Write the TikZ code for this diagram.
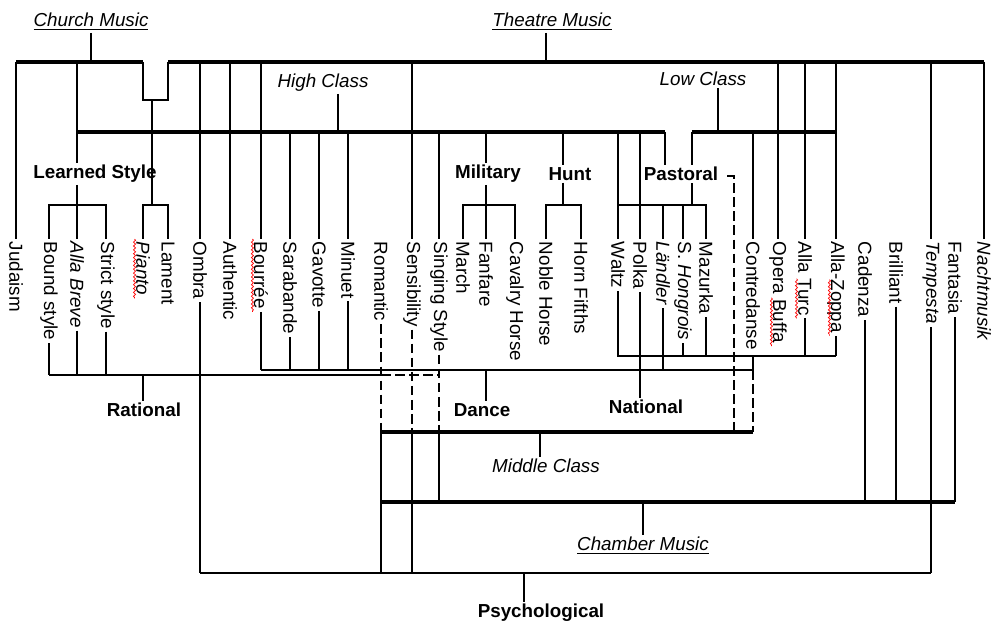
\documentclass[tikz,border=0pt]{standalone}
\usepackage{fontspec}
\setmainfont{Liberation Sans}
\usetikzlibrary{positioning,calc,decorations.pathmorphing}
\newcommand{\lblsize}{\fontsize{10.7}{12}\selectfont}
\tikzset{item/.style={rotate=-90,anchor=west,inner sep=1.5pt,font=\lblsize},
 grp/.style={font=\lblsize\bfseries,inner sep=1pt},
 cls/.style={font=\lblsize\itshape,inner sep=1pt},
 link/.style={line width=.75pt},
 dlink/.style={link,dash pattern=on 5.5pt off 2.5pt},
 midbar/.style={line width=1.9pt},
 bar/.style={line width=2.6pt},
 spell/.style={red,line width=.4pt,decorate,
  decoration={snake,amplitude=.6pt,segment length=2.2pt}}}

\begin{document}
\begin{tikzpicture}[x=0.02cm,y=-0.02cm]
\useasboundingbox (0,0) rectangle (1000,624);
% levels of the bars
\coordinate (topY) at (0,62);
\coordinate (hiY) at (0,132);
\coordinate (grpY) at (0,205);
\coordinate (walY) at (0,356);
\coordinate (danY) at (0,370);
\coordinate (ratY) at (0,375);
\coordinate (midY) at (0,432);
\coordinate (chaY) at (0,502);
\coordinate (psyY) at (0,573);

% headings
\node[cls] (church) at (91,22) {\underline{Church Music}};
\node[cls] (theatre) at (552,22) {\underline{Theatre Music}};
\node[cls] (high) at (323,83) {High Class};
\node[cls] (low) at (703,79) {Low Class};
\node[grp] (learned) at (95,174) {Learned Style};
\node[grp] (military) at (488,174) {Military};
\node[grp] (hunt) at (570,174) {Hunt};
\node[grp] (pastoral) at (681,174) {Pastoral};
\node[grp] (rational) at (144,410) {Rational};
\node[grp] (dance) at (482,410) {Dance};
\node[grp] (national) at (646,407) {National};
\node[cls] (middle) at (546,466) {Middle Class};
\node[cls] (chamber) at (643,546) {\underline{Chamber Music}};
\node[grp] (psych) at (541,613) {Psychological};

% topics
\foreach \x/\n/\lab in {16/jud/Judaism, 49/bound/Bound style,
  77/breve/\textit{Alla Breve}, 106/strict/Strict style, 143/pianto/\textit{Pianto},
  168/lament/Lament, 200/ombra/Ombra, 230/authentic/Authentic, 261/bourree/Bourrée,
  290/sarab/Sarabande, 319/gavotte/Gavotte, 348/minuet/Minuet, 381/romantic/Romantic,
  412/sensib/Sensibility, 439/singing/Singing Style, 463/march/March,
  486/fanfare/Fanfare, 515/cavalry/Cavalry Horse, 546/noble/Noble Horse,
  581/horn/Horn Fifths, 618/waltz/Waltz, 640/polka/Polka, 663/landler/\textit{Ländler},
  683/hongrois/S. \textit{Hongrois}, 706/mazurka/Mazurka, 753/contre/Contredanse,
  778/buffa/Opera Buffa, 805/turc/Alla Turc, 836/zoppa/Alla-Zoppa, 865/cadenza/Cadenza,
  896/brill/Brilliant, 931/tempesta/\textit{Tempesta}, 955/fantasia/Fantasia,
  984/nacht/\textit{Nachtmusik}}
  \node[item] (\n) at (\x,239) {\lab};

% spelling marks
\draw[spell] ([xshift=-1pt]pianto.base west) -- ([xshift=-1pt]pianto.base east);
\draw[spell] ([xshift=-1pt]bourree.base west) -- ([xshift=-1pt]bourree.base east);
\draw[spell] ([xshift=-1pt]$(buffa.base west)!.55!(buffa.base east)$) -- ([xshift=-1pt]buffa.base east);
\draw[spell] ([xshift=-1pt]$(turc.base west)!.5!(turc.base east)$) -- ([xshift=-1pt]turc.base east);
\draw[spell] ([xshift=-1pt]$(zoppa.base west)!.42!(zoppa.base east)$) -- ([xshift=-1pt]zoppa.base east);

% church and theatre
\coordinate (thTick) at (546,62);
\coordinate (notch) at (152,100);
\draw[bar] (jud |- topY) -- (pianto |- topY);
\draw[bar] (lament |- topY) -- (nacht |- topY);
\draw[link] (church.south) -- (church.south |- topY);
\draw[link] (theatre.south -| thTick) -- (thTick);
\draw[link] (pianto |- topY) -- (pianto |- notch) -- (lament |- notch) -- (lament |- topY);
\draw[link] (notch) -- (notch |- grpY);
\foreach \n in {jud,ombra,authentic,bourree,sensib,buffa,turc,zoppa,tempesta,nacht}
  \draw[link] (\n |- topY) -- (\n.west);
\draw[link] (breve |- topY) -- (breve |- learned.north);

% high class
\coordinate (hiTick) at (338,132);
\coordinate (pasHi) at (665,132);
\coordinate (huntX) at (563,0);
\draw[midbar] (breve |- hiY) -- (pasHi);
\draw[link] (high.south -| hiTick) -- (hiTick);
\foreach \n in {sarab,gavotte,minuet,singing,waltz,polka}
  \draw[link] (\n |- hiY) -- (\n.west);
\draw[link] (fanfare |- hiY) -- (fanfare |- military.north);
\draw[link] (huntX |- hiY) -- (huntX |- hunt.north);
\draw[link] (pasHi) -- (pasHi |- pastoral.north);

% low class
\coordinate (loTick) at (718,132);
\coordinate (pasLo) at (692,132);
\coordinate (pasD) at (734,176);
\draw[midbar] (pasLo) -- (zoppa |- hiY);
\draw[link] (low.south -| loTick) -- (loTick);
\draw[link] (pasLo) -- (pasLo |- pastoral.north);
\draw[link] (contre |- hiY) -- (contre.west);

% small groups
\draw[link] (breve |- learned.south) -- (breve |- grpY);
\draw[link] (bound.west) -- (bound |- grpY) -- (strict |- grpY) -- (strict.west);
\draw[link] (breve |- grpY) -- (breve.west);
\draw[link] (pianto.west) -- (pianto |- grpY) -- (lament |- grpY) -- (lament.west);
\draw[link] (fanfare |- military.south) -- (fanfare.west);
\draw[link] (march.west) -- (march |- grpY) -- (cavalry |- grpY) -- (cavalry.west);
\draw[link] (huntX |- hunt.south) -- (huntX |- grpY);
\draw[link] (noble.west) -- (noble |- grpY) -- (horn |- grpY) -- (horn.west);
\draw[link] (pasLo |- pastoral.south) -- (pasLo |- grpY);
\draw[link] (waltz |- grpY) -- (mazurka |- grpY) -- (mazurka.west);
\draw[link] (landler |- grpY) -- (landler.west);
\draw[link] (hongrois |- grpY) -- (hongrois.west);
\draw[dlink] ([xshift=4pt]pastoral.east |- pasD) -- (pasD) -- (pasD |- midY);

% rational
\foreach \n in {bound,breve,strict}
  \draw[link] (\n.east) -- (\n |- ratY);
\draw[link] (bound |- ratY) -- (romantic |- ratY);
\draw[dlink] (romantic |- ratY) -- (singing |- ratY);
\draw[link] (pianto |- ratY) -- (pianto |- rational.north);

% dance and national
\foreach \n in {bourree,sarab,gavotte,minuet}
  \draw[link] (\n.east) -- (\n |- danY);
\draw[link] (bourree |- danY) -- (contre |- danY);
\draw[link] (fanfare |- danY) -- (fanfare |- dance.north);
\draw[link] (waltz.east) -- (waltz |- walY) -- (zoppa |- walY);
\foreach \n in {hongrois,mazurka,turc,zoppa}
  \draw[link] (\n.east) -- (\n |- walY);
\draw[link] (polka.east) -- (polka |- national.north);
\draw[link] (landler.east) -- (landler |- danY);
\draw[link] (contre |- walY) -- (contre |- danY);
\draw[dlink] (contre |- danY) -- (contre |- midY);

% middle class
\coordinate (midTick) at (540,432);
\draw[dlink] (romantic.east) -- (romantic |- midY);
\draw[dlink] (sensib.east) -- (sensib |- midY);
\draw[dlink] (singing.east) -- (singing |- midY);
\draw[midbar] (romantic |- midY) -- (contre |- midY);
\draw[link] (midTick) -- (midTick |- middle.north);

% chamber music
\foreach \n in {cadenza,brill,fantasia}
  \draw[link] (\n.east) -- (\n |- chaY);
\draw[link] (singing |- midY) -- (singing |- chaY);
\draw[bar] (romantic |- chaY) -- (fantasia |- chaY);
\draw[link] (chamber.north |- chaY) -- (chamber.north);

% psychological
\coordinate (psyTick) at (524,573);
\draw[link] (ombra.east) -- (ombra |- psyY);
\draw[link] (romantic |- midY) -- (romantic |- psyY);
\draw[link] (sensib |- midY) -- (sensib |- psyY);
\draw[link] (tempesta.east) -- (tempesta |- psyY);
\draw[link] (ombra |- psyY) -- (tempesta |- psyY);
\draw[link] (psyTick) -- (psyTick |- psych.north);
\end{tikzpicture}
\end{document}
